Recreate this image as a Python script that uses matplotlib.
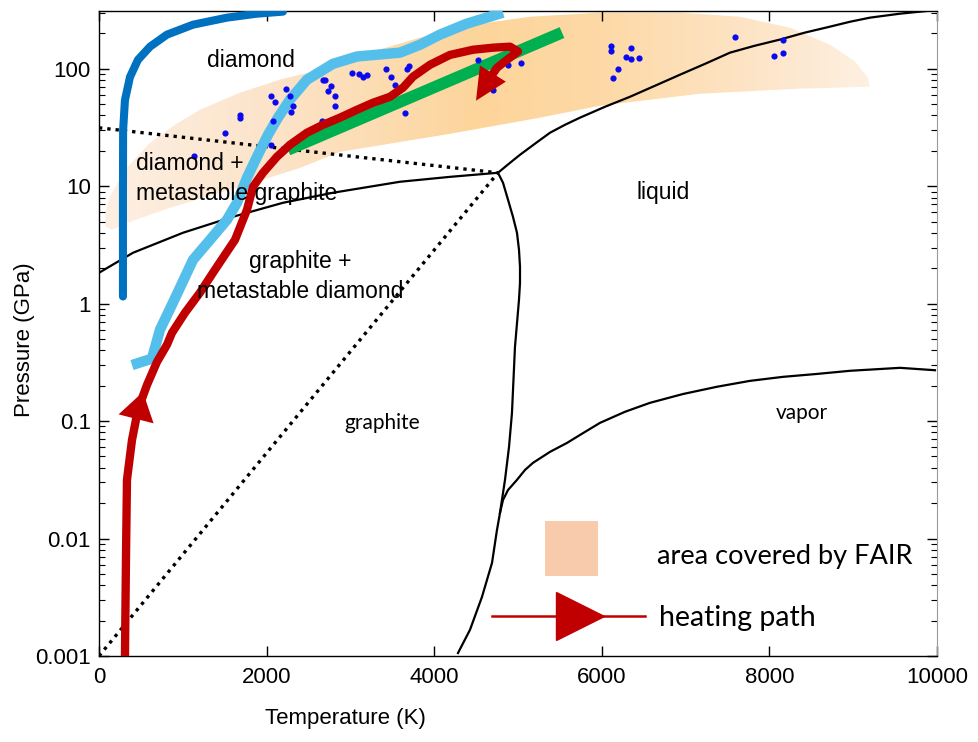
import numpy as np
import matplotlib
matplotlib.use("Agg")
import matplotlib.pyplot as plt
from matplotlib.colors import LinearSegmentedColormap
from matplotlib.patches import Polygon, Rectangle
from matplotlib.ticker import LogLocator, NullFormatter, NullLocator

# --- phase boundaries (T in K, P in GPa) ---
gd_T = [0, 406, 1002, 1599, 2196, 2792, 3592, 4188, 4761]
gd_P = [1.83, 2.71, 4.01, 5.49, 7.22, 8.79, 10.9, 12.0, 13.0]

dl_T = [4761, 4905, 5024, 5203, 5382, 5561, 5740, 6038, 6337, 6635, 6933, 7232,
        7530, 7828, 8126, 8425, 8723, 8962, 9200, 9558, 9916]
dl_P = [13.0, 15.8, 18.5, 23.0, 28.5, 33.3, 38.3, 47.4, 57.7, 71.6, 88.9, 110,
        137, 157, 177, 203, 228, 251, 272, 294, 312]

gl_T = [4761, 4821, 4881, 4940, 4988, 5012, 5024, 5024, 5012, 4964, 4928, 4893,
        4845, 4785, 4749, 4690, 4570, 4427, 4284]
gl_P = [13.0, 10.7, 7.66, 5.49, 4.01, 2.87, 2.06, 1.50, 1.08, 0.428, 0.117, 0.0603,
        0.0316, 0.0165, 0.0118, 0.0062, 0.00318, 0.00167, 0.00106]

vap_T = [4785, 4821, 4881, 4988, 5084, 5179, 5382, 5585, 5800, 5979, 6277, 6575,
         6969, 7375, 7768, 8162, 8568, 8962, 9558, 9976]
vap_P = [0.0165, 0.0213, 0.0259, 0.0316, 0.0384, 0.0441, 0.0547, 0.0652, 0.0809,
         0.0966, 0.120, 0.143, 0.170, 0.196, 0.220, 0.238, 0.252, 0.268, 0.284, 0.271]

# metastability limits (dotted)
ms1_T = [0, 4761]
ms1_P = [31.4, 13.0]
ms2_T = [0, 4761]
ms2_P = [0.001, 13.0]

# --- area covered by FAIR (outline) ---
band_T = [72, 131, 310, 609, 907, 1205, 1683, 2160, 2637, 3270, 3831, 4463, 5143,
          5979, 6933, 7649, 8246, 8723, 9021, 9177, 9200,
          8365, 7172, 5979, 5263, 4188, 2876, 2399, 1683, 847, 370, 155, 72]
band_P = [5.71, 8.13, 13.8, 23.4, 33.3, 44.7, 62.5, 80.6, 98, 140, 184, 237, 277,
          300, 300, 277, 223, 160, 115, 83.8, 70.3,
          67.6, 61.2, 48.4, 38.3, 27.9, 19.6, 14.3, 9.88, 6.55, 4.97, 4.25, 4.60]

# --- compression / heating paths ---
dkblue_T = [286, 286, 288, 310, 370, 465, 609, 811, 1122, 1527, 1885, 2196]
dkblue_P = [1.15, 7.7, 30, 54, 85, 119, 154, 195, 237, 272, 294, 306]

lblue_T = [394, 632, 728, 883, 1122, 1325, 1527, 1647, 1766, 1897, 2017, 2136,
           2279, 2482, 2792, 3079, 3592, 3831, 4069, 4391, 4821]
lblue_P = [0.30, 0.34, 0.60, 1.02, 2.36, 3.49, 5.17, 7.22, 11.8, 18.5, 27.4, 38.3,
           54.5, 80.6, 110, 127, 137, 160, 195, 242, 300]

green_T = [2255, 5525]
green_P = [20.4, 203]

heat_T = [310, 322, 334, 394, 465, 573, 692, 811, 871, 1026, 1205, 1360, 1504,
          1623, 1766, 1838, 1957, 2124, 2279, 2482, 2673, 2876, 3079, 3270,
          3473, 3628, 3747, 3950, 4188, 4463, 4702, 4905, 5000, 4869, 4750, 4696]
heat_P = [0.001, 0.0066, 0.0316, 0.069, 0.125, 0.203, 0.319, 0.446, 0.564, 0.835,
          1.24, 1.83, 2.61, 3.49, 6.29, 9.88, 13.0, 17.8, 22.5, 28.5, 33.3, 38.3,
          44.7, 51.3, 57.7, 68.9, 85.5, 108, 131, 145, 151, 154, 140, 119, 102, 89.8]

# arrow heads on the heating path: (base, tip)
arrow1 = ((459, 0.116), (525, 0.177))
arrow2 = ((4696, 89.8), (4499, 53.4))

# --- experimental points ---
exp_T = [1134, 1504, 1683, 1683, 2052, 2076, 2052, 2100, 2231, 2279, 2315, 2291,
         2673, 2697, 2768, 2733, 2816, 2816, 2661, 3019, 3103, 3150, 3198, 3425,
         3484, 3532, 3675, 3699, 3652, 4523, 4881, 5036, 4702, 6110, 6110, 6348,
         6289, 6348, 6444, 6193, 6134, 7589, 8162, 8055, 8162]
exp_P = [18.2, 28.5, 40.6, 38.3, 22.5, 36.1, 58.9, 52.4, 67.6, 58.9, 48.4, 43.0,
         80.6, 80.6, 71.6, 65.0, 58.9, 48.4, 36.0, 92.5, 90.6, 85.5, 88.9, 100,
         85.5, 73.1, 100, 106, 42.2, 119, 108, 112, 66.2, 157, 142, 151,
         127, 122, 124, 100, 83.8, 187, 177, 129, 137]

p_ticks = [0.001, 0.01, 0.1, 1, 10, 100]
p_labels = ['0.001', '0.01', '0.1', '1', '10', '100']
t_ticks = [0, 2000, 4000, 6000, 8000, 10000]

RED = '#C00000'


def main():
    plt.rcParams['font.family'] = ['Liberation Sans', 'DejaVu Sans']

    fig = plt.figure(figsize=(9.79, 7.42), dpi=100)
    ax = fig.add_axes([0.1011, 0.1159, 0.8560, 0.8693])
    ax.set_yscale('log')
    ax.set_xlim(0, 10000)
    ax.set_ylim(0.001, 310)
    ax.set_autoscale_on(False)

    # FAIR area: horizontal gradient clipped to the outline
    band_cmap = LinearSegmentedColormap.from_list('fair', [
        (0.0, '#FDF0E4'), (0.2, '#FCE4CA'), (0.45, '#FDD59B'),
        (0.6, '#FDD9A6'), (0.8, '#FDE6CA'), (0.92, '#FEF0E2'), (1.0, '#FFF5EC')])
    grad = np.linspace(0, 1, 512)[None, :]
    im = ax.imshow(grad, cmap=band_cmap, extent=[0, 1, 0, 1], transform=ax.transAxes,
                   aspect='auto', interpolation='bilinear', zorder=1)
    outline = Polygon(np.column_stack([band_T, band_P]), closed=True,
                      transform=ax.transData, facecolor='none', edgecolor='none')
    ax.add_patch(outline)
    im.set_clip_path(outline)

    # phase lines
    for T, P in [(gd_T, gd_P), (dl_T, dl_P), (gl_T, gl_P), (vap_T, vap_P)]:
        ax.plot(T, P, color='black', lw=1.6, zorder=2.5)
    for T, P in [(ms1_T, ms1_P), (ms2_T, ms2_P)]:
        ax.plot(T, P, color='black', lw=2.4, linestyle=(0, (1, 1.5)), zorder=2.5)

    # paths
    ax.plot(dkblue_T, dkblue_P, color='#0070C0', lw=5.8, solid_capstyle='round', zorder=3)
    ax.plot(lblue_T, lblue_P, color='#55BFEC', lw=7.5, solid_capstyle='butt', zorder=3)
    ax.plot(green_T, green_P, color='#00B050', lw=8.5, solid_capstyle='butt', zorder=3.5)
    ax.scatter(exp_T, exp_P, s=20, color='#0A0AF0', zorder=4, linewidths=0)
    ax.plot(heat_T, heat_P, color=RED, lw=6, solid_joinstyle='round', zorder=5)
    ax.annotate('', xy=arrow1[1], xytext=arrow1[0],
                arrowprops=dict(arrowstyle='-|>,head_length=1.0,head_width=0.65',
                                mutation_scale=20, color=RED, lw=0,
                                shrinkA=0, shrinkB=0), zorder=5)
    ax.annotate('', xy=arrow2[1], xytext=arrow2[0],
                arrowprops=dict(arrowstyle='-|>,head_length=1.15,head_width=0.55',
                                mutation_scale=20, color=RED, lw=0,
                                shrinkA=0, shrinkB=0), zorder=5)

    # region labels
    ax.text(1814, 117, 'diamond', ha='center', va='center', fontsize=16.5, zorder=6)
    ax.text(442, 11.56, 'diamond +\nmetastable graphite', ha='left', va='center',
            fontsize=16.5, linespacing=1.4, zorder=6)
    ax.text(2399, 1.69, 'graphite +\nmetastable diamond', ha='center', va='center',
            fontsize=16.5, linespacing=1.4, zorder=6)
    ax.text(6730, 8.79, 'liquid', ha='center', va='center', fontsize=16.5, zorder=6)
    ax.text(3377, 0.0966, 'graphite', ha='center', va='center', fontsize=15,
            family=['Lato', 'DejaVu Sans'], zorder=6)
    ax.text(8389, 0.117, 'vapor', ha='center', va='center', fontsize=15,
            family=['Lato', 'DejaVu Sans'], zorder=6)

    # hand-made legend
    ax.add_patch(Rectangle((0.532, 0.124), 0.063, 0.085, transform=ax.transAxes,
                           facecolor='#F8CBAD', edgecolor='none', zorder=6))
    ax.text(0.666, 0.155, 'area covered by FAIR', transform=ax.transAxes,
            ha='left', va='center', fontsize=19.5, family=['Lato', 'DejaVu Sans'], zorder=6)
    ax.plot([0.469, 0.651], [0.062, 0.062], color=RED, lw=1.8,
            transform=ax.transAxes, zorder=6)
    ax.plot([0.574], [0.062], marker='>', ms=34, color=RED,
            transform=ax.transAxes, zorder=6)
    ax.text(0.668, 0.059, 'heating path', transform=ax.transAxes,
            ha='left', va='center', fontsize=20.5, family=['Lato', 'DejaVu Sans'], zorder=6)

    # axes
    ax.set_xticks(t_ticks)
    ax.set_yticks(p_ticks, p_labels)
    ax.yaxis.set_minor_locator(LogLocator(base=10, subs=np.arange(2, 10)))
    ax.yaxis.set_minor_formatter(NullFormatter())
    ax.xaxis.set_minor_locator(NullLocator())
    ax.tick_params(which='both', direction='in', top=True, right=True, labelsize=16)
    ax.tick_params(which='major', length=7, width=1)
    ax.tick_params(which='minor', length=4, width=0.8)
    ax.tick_params(axis='x', pad=8)
    ax.tick_params(axis='y', pad=6)
    for side in ['left', 'bottom', 'top']:
        ax.spines[side].set_linewidth(1)
    ax.spines['right'].set_color('#999999')

    ax.set_xlabel('Temperature (K)', fontsize=16)
    ax.xaxis.set_label_coords(0.294, -0.081)
    ax.set_ylabel('Pressure (GPa)', fontsize=16)
    ax.yaxis.set_label_coords(-0.076, 0.49)

    fig.savefig('out.png', dpi=100)


if __name__ == "__main__":
    main()
